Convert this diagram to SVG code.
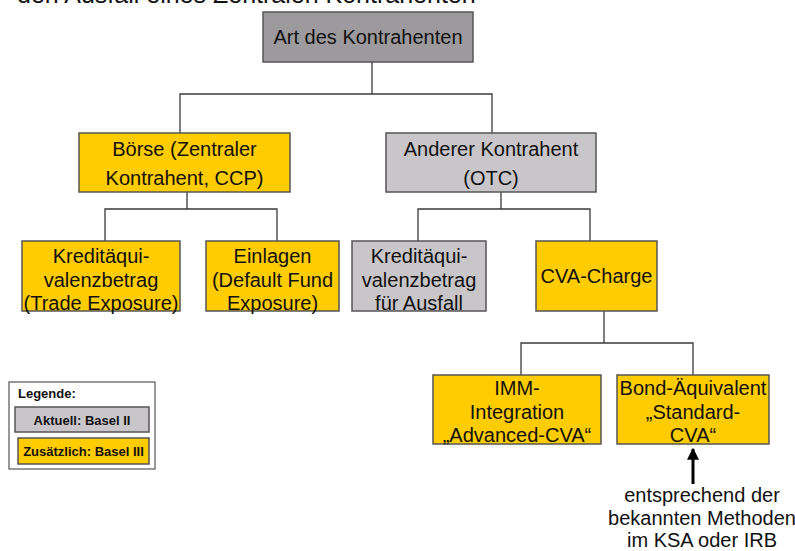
<svg xmlns="http://www.w3.org/2000/svg" width="795" height="551" viewBox="0 0 795 551">
<defs>
<style>
text{font-family:"Liberation Sans",Arial,sans-serif;fill:#111;}
.t{font-size:20px;text-anchor:middle;}
.y{fill:#ffcc00;stroke:#555;stroke-width:1.5;}
.g{fill:#c8c6c9;stroke:#555;stroke-width:1.5;}
.r{fill:#9c9a9c;stroke:#555;stroke-width:1.5;}
.c{fill:none;stroke:#3a3a3a;stroke-width:1.3;}
.lg{font-size:13px;font-weight:bold;}
</style>
<marker id="ah" markerWidth="4" markerHeight="4" refX="3.6" refY="2" orient="auto" markerUnits="strokeWidth">
<path d="M0,0 L4,2 L0,4 Z" fill="#000"/>
</marker>
</defs>
<rect width="795" height="551" fill="#fff"/>
<text x="17" y="3" style="font-size:25px">den Ausfall eines Zentralen Kontrahenten</text>

<g id="connectors">
<path class="c" d="M372,62 V94 M180,133 V94 H492 V133"/>
<path class="c" d="M187,192 V209 M105,241 V209 H277 V241"/>
<path class="c" d="M501,192 V209 M418,241 V209 H590 V241"/>
<path class="c" d="M604,311 V343 M521,375 V343 H693 V375"/>
<line x1="693" y1="484" x2="693" y2="449" stroke="#000" stroke-width="3" marker-end="url(#ah)"/>
</g>

<g id="root">
<rect class="r" x="263" y="12" width="210" height="50"/>
<text class="t" x="368" y="44">Art des Kontrahenten</text>
</g>
<g id="boerse">
<rect class="y" x="79" y="133" width="211" height="59"/>
<text class="t" x="184.5" y="156">Börse (Zentraler</text>
<text class="t" x="184.5" y="185">Kontrahent, CCP)</text>
</g>
<g id="otc">
<rect class="g" x="386" y="133" width="210" height="59"/>
<text class="t" x="491" y="156">Anderer Kontrahent</text>
<text class="t" x="491" y="185">(OTC)</text>
</g>
<g id="kred1">
<rect class="y" x="22" y="241" width="158" height="70"/>
<text class="t" x="101" y="263">Kreditäqui-</text>
<text class="t" x="101" y="286.5">valenzbetrag</text>
<text class="t" x="101" y="310">(Trade Exposure)</text>
</g>
<g id="einlagen">
<rect class="y" x="206" y="241" width="133" height="70"/>
<text class="t" x="272.5" y="263">Einlagen</text>
<text class="t" x="272.5" y="286.5">(Default Fund</text>
<text class="t" x="272.5" y="310">Exposure)</text>
</g>
<g id="kred2">
<rect class="g" x="352" y="241" width="134" height="70"/>
<text class="t" x="419" y="263">Kreditäqui-</text>
<text class="t" x="419" y="286.5">valenzbetrag</text>
<text class="t" x="419" y="310">für Ausfall</text>
</g>
<g id="cva">
<rect class="y" x="536" y="241" width="121" height="70"/>
<text class="t" x="596.5" y="283">CVA-Charge</text>
</g>
<g id="imm">
<rect class="y" x="433" y="375" width="168" height="69"/>
<text class="t" x="517" y="395">IMM-</text>
<text class="t" x="517" y="418.5">Integration</text>
<text class="t" x="517" y="442">„Advanced-CVA“</text>
</g>
<g id="bond">
<rect class="y" x="617" y="375" width="152" height="69"/>
<text class="t" x="693" y="395">Bond-Äquivalent</text>
<text class="t" x="693" y="418.5">„Standard-</text>
<text class="t" x="693" y="442">CVA“</text>
</g>
<g id="note">
<text class="t" x="702" y="502">entsprechend der</text>
<text class="t" x="702" y="525">bekannten Methoden</text>
<text class="t" x="702" y="547">im KSA oder IRB</text>
</g>
<g id="legend">
<rect x="9" y="382" width="146" height="87" fill="#fff" stroke="#555" stroke-width="1.2"/>
<text class="lg" x="18" y="398">Legende:</text>
<rect class="g" x="15" y="407" width="134" height="25"/>
<text class="lg" x="82" y="424.5" text-anchor="middle">Aktuell: Basel II</text>
<rect class="y" x="18" y="438" width="131" height="26"/>
<text class="lg" x="83.5" y="456" text-anchor="middle">Zusätzlich: Basel III</text>
</g>
</svg>
